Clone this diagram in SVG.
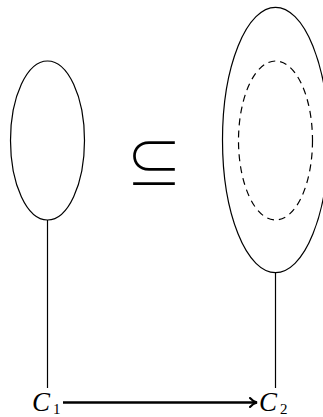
<svg xmlns="http://www.w3.org/2000/svg" width="323" height="417" viewBox="0 0 323 417">
<style>
.s{fill:none;stroke:#000;stroke-width:1.2}
.d{fill:none;stroke:#000;stroke-width:1.2;stroke-dasharray:7,5}
.t{font-family:"Liberation Serif","DejaVu Serif",serif;font-style:italic;font-size:27px;fill:#000}
.sub{font-family:"Liberation Serif","DejaVu Serif",serif;font-size:15px;fill:#000}
</style>
<defs>
<marker id="ah" markerWidth="12" markerHeight="12" refX="9" refY="6" orient="auto" markerUnits="userSpaceOnUse">
<path d="M2,1.5 Q5,5 9,6 Q5,7 2,10.5" fill="none" stroke="#000" stroke-width="2" stroke-linecap="round"/>
</marker>
</defs>
<g id="left">
<ellipse class="s" cx="47.5" cy="140.5" rx="37" ry="79.5"/>
</g>
<g id="right">
<ellipse class="s" cx="275.5" cy="140" rx="53" ry="132.7"/>
<ellipse class="d" cx="275.5" cy="140.5" rx="37" ry="79.5"/>
</g>
<g id="subset">
<text x="154" y="184" font-family="Noto Sans CJK SC, DejaVu Sans, sans-serif" font-weight="300" font-size="56" text-anchor="middle">⊆</text>
</g>
<g id="C1">
<text class="t" x="32" y="411">C</text><text class="sub" x="53" y="414">1</text>
</g>
<g id="C2">
<text class="t" x="259" y="411">C</text><text class="sub" x="280" y="414">2</text>
</g>
<g id="connectors">
<line class="s" x1="47.5" y1="220" x2="47.5" y2="388"/>
<line class="s" x1="275.5" y1="272.7" x2="275.5" y2="388"/>
<line x1="63" y1="402.5" x2="257" y2="402.5" stroke="#000" stroke-width="2.6" marker-end="url(#ah)"/>
</g>
</svg>
